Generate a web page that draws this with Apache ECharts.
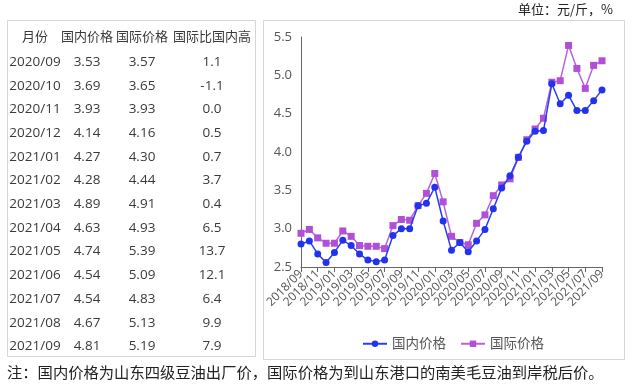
<!DOCTYPE html>
<html><head><meta charset="utf-8">
<script src="https://cdn.jsdelivr.net/npm/echarts@6/dist/echarts.min.js"></script>
<style>html,body{margin:0;padding:0;background:#fff}#c{width:640px;height:387px}</style>
</head><body><div id="c"></div>
<script>
const months = ['2018/09','2018/10','2018/11','2018/12','2019/01','2019/02','2019/03','2019/04','2019/05','2019/06','2019/07','2019/08','2019/09','2019/10','2019/11','2019/12','2020/01','2020/02','2020/03','2020/04','2020/05','2020/06','2020/07','2020/08','2020/09','2020/10','2020/11','2020/12','2021/01','2021/02','2021/03','2021/04','2021/05','2021/06','2021/07','2021/08','2021/09'];
const domestic = [2.80,2.84,2.67,2.56,2.69,2.85,2.78,2.67,2.59,2.57,2.59,2.91,3.00,3.00,3.30,3.33,3.54,3.10,2.72,2.82,2.70,2.84,2.99,3.26,3.53,3.69,3.93,4.14,4.27,4.28,4.89,4.63,4.74,4.54,4.54,4.67,4.81];
const international = [2.94,2.99,2.88,2.81,2.81,2.97,2.90,2.78,2.77,2.77,2.74,3.04,3.12,3.11,3.30,3.46,3.72,3.35,2.90,2.82,2.79,3.07,3.18,3.43,3.57,3.65,3.93,4.16,4.30,4.44,4.91,4.93,5.39,5.09,4.83,5.13,5.19];
const tableHeader = ['月份','国内价格','国际价格','国际比国内高'];
const tableMonths = ['2020/09','2020/10','2020/11','2020/12','2021/01','2021/02','2021/03','2021/04','2021/05','2021/06','2021/07','2021/08','2021/09'];
const tableDomestic = ['3.53','3.69','3.93','4.14','4.27','4.28','4.89','4.63','4.74','4.54','4.54','4.67','4.81'];
const tableInternational = ['3.57','3.65','3.93','4.16','4.30','4.44','4.91','4.93','5.39','5.09','4.83','5.13','5.19'];
const tableDiff = ['1.1','-1.1','0.0','0.5','0.7','3.7','0.4','6.5','13.7','12.1','6.4','9.9','7.9'];
const seriesNames = ['国内价格','国际价格'];
const unitText = '单位：元/斤，%';
const noteText = '注：国内价格为山东四级豆油出厂价，国际价格为到山东港口的南美毛豆油到岸税后价。';

const FONT = '"Open Sans","Noto Sans CJK SC",sans-serif';
const colX = [35, 87, 142, 212];
const txtColor = '#3a3a3a';
const graphics = [
  {type:'rect', shape:{x:7.5,y:20.5,width:248,height:336}, style:{fill:'none',stroke:'#d6d6d6',lineWidth:1}, z:0},
  {type:'rect', shape:{x:263.5,y:20.5,width:361,height:339}, style:{fill:'none',stroke:'#d6d6d6',lineWidth:1}, z:0},
  {type:'text', x:613, y:9, style:{text:unitText, textAlign:'right', textVerticalAlign:'middle', font:'13px "Noto Sans CJK SC"', fill:'#222'}},
  {type:'text', x:7, y:372, style:{text:noteText, textAlign:'left', textVerticalAlign:'middle', font:'15.3px "Noto Sans CJK SC"', fill:'#222'}}
];
tableHeader.forEach((h,i)=>{
  graphics.push({type:'text', x:colX[i], y:37, style:{text:h, textAlign:'center', textVerticalAlign:'middle', font:'13px '+FONT, fill:txtColor}});
});
tableMonths.forEach((m,k)=>{
  const y = 62 + k*23.7;
  const vals = [m, tableDomestic[k], tableInternational[k], tableDiff[k]];
  vals.forEach((v,i)=>{
    graphics.push({type:'text', x:colX[i], y:y, style:{text:v, textAlign:'center', textVerticalAlign:'middle', font:'13.5px '+FONT, fill:txtColor}});
  });
});

const chart = echarts.init(document.getElementById('c'));
chart.setOption({
  animation:false,
  graphic: graphics,
  grid:{left:301, right:38, top:37, bottom:120},
  legend:{
    data:seriesNames, top:332, left:357, itemWidth:24, itemHeight:8, itemGap:14,
    textStyle:{fontSize:13.5, color:'#555', fontFamily:FONT}
  },
  xAxis:{
    type:'category', data:months, boundaryGap:false,
    axisLine:{lineStyle:{color:'#666', width:1}},
    axisTick:{show:true, interval:1, length:5, lineStyle:{color:'#666'}},
    axisLabel:{interval:1, rotate:45, fontSize:12, color:'#555', fontFamily:FONT, margin:5}
  },
  yAxis:{
    type:'value', min:2.5, max:5.5, interval:0.5,
    axisLine:{show:true, lineStyle:{color:'#666', width:1}},
    axisTick:{show:false},
    splitLine:{show:false},
    axisLabel:{fontSize:13, color:'#555', fontFamily:FONT, margin:9, formatter:v=>v.toFixed(1)}
  },
  series:[
    {name:seriesNames[0], type:'line', data:domestic, symbol:'circle', symbolSize:7, showAllSymbol:true,
     itemStyle:{color:'#2233ee'}, lineStyle:{color:'#2a3ef0', width:1.5}, z:3},
    {name:seriesNames[1], type:'line', data:international, symbol:'rect', symbolSize:7, showAllSymbol:true,
     itemStyle:{color:'#b050d8'}, lineStyle:{color:'#b862dc', width:1.5}, z:2}
  ]
});
</script></body></html>
